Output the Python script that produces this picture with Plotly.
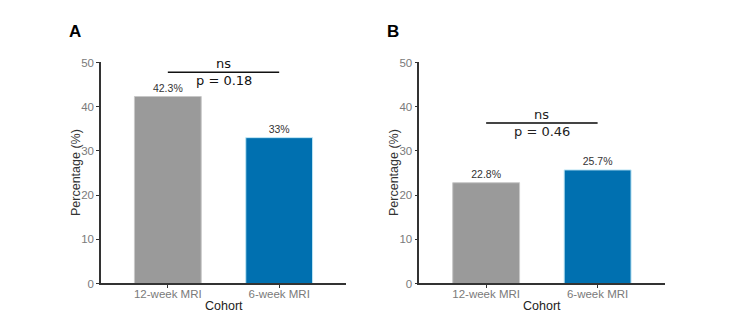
import plotly.graph_objects as go

categories = ["12-week MRI", "6-week MRI"]
values_a = [42.3, 33.0]
values_b = [22.8, 25.7]
labels_a = ["42.3%", "33%"]
labels_b = ["22.8%", "25.7%"]
bar_colors = ["#9a9a9a", "#0070b0"]
p_a = "p = 0.18"
p_b = "p = 0.46"
sig_a = "ns"
sig_b = "ns"
bracket_a = 47.8
bracket_b = 36.3
x_title = "Cohort"
y_title = "Percentage (%)"

FONT = "Liberation Sans, Arial, sans-serif"

fig = go.Figure()
fig.add_trace(go.Bar(x=categories, y=values_a, text=labels_a, textposition="outside",
                     marker=dict(color=bar_colors, line=dict(color=["#c8c8c8", "#bfe6f5"], width=1)),
                     width=0.6, xaxis="x", yaxis="y", cliponaxis=False,
                     textfont=dict(family=FONT, size=10.5, color="#333333"),
                     showlegend=False))
fig.add_trace(go.Bar(x=categories, y=values_b, text=labels_b, textposition="outside",
                     marker=dict(color=bar_colors, line=dict(color=["#c8c8c8", "#bfe6f5"], width=1)),
                     width=0.6, xaxis="x2", yaxis="y2", cliponaxis=False,
                     textfont=dict(family=FONT, size=10.5, color="#333333"),
                     showlegend=False))

ydom = [0.1277, 0.8077]
xcommon = dict(range=[-0.6, 1.6], showline=True, linecolor="#333333", linewidth=1.5,
               ticks="outside", ticklen=3, tickcolor="#333333", showgrid=False,
               tickfont=dict(family=FONT, size=11.5, color="#7a7a7a"),
               ticklabelstandoff=-4,
               fixedrange=True, automargin=False)
ycommon = dict(range=[0, 50], dtick=10, showline=True, linecolor="#333333", linewidth=1.5,
               ticks="outside", ticklen=3, tickcolor="#333333", showgrid=False, zeroline=False,
               tickfont=dict(family=FONT, size=11.5, color="#7a7a7a"),
               domain=ydom, automargin=False)

xdom_a = [0.1347, 0.4613]
xdom_b = [0.559, 0.886]
fig.update_layout(
    width=750, height=325, margin=dict(l=0, r=0, t=0, b=0),
    paper_bgcolor="white", plot_bgcolor="white",
    xaxis=dict(domain=xdom_a, anchor="y", **xcommon),
    yaxis=dict(anchor="x", **ycommon),
    xaxis2=dict(domain=xdom_b, anchor="y2", **xcommon),
    yaxis2=dict(anchor="x2", **ycommon),
    bargap=0.4,
)

shapes = [
    dict(type="line", xref="x", yref="y", x0=0, x1=1, y0=bracket_a, y1=bracket_a,
         line=dict(color="#111111", width=1.5)),
    dict(type="line", xref="x2", yref="y2", x0=0, x1=1, y0=bracket_b, y1=bracket_b,
         line=dict(color="#444444", width=2)),
]
fig.update_layout(shapes=shapes)

SIGF = "DejaVu Sans, sans-serif"
ymid = (ydom[0] + ydom[1]) / 2
ann = [
    dict(x=0.5, y=bracket_a, xref="x", yref="y", text=sig_a, showarrow=False, yanchor="bottom",
         yshift=-1, font=dict(family=SIGF, size=13, color="#111111")),
    dict(x=0.5, y=bracket_a, xref="x", yref="y", text=p_a, showarrow=False, yanchor="top",
         yshift=1, font=dict(family=SIGF, size=13, color="#111111")),
    dict(x=0.5, y=bracket_b, xref="x2", yref="y2", text=sig_b, showarrow=False, yanchor="bottom",
         yshift=-1, font=dict(family=SIGF, size=13, color="#222222")),
    dict(x=0.5, y=bracket_b, xref="x2", yref="y2", text=p_b, showarrow=False, yanchor="top",
         yshift=1, font=dict(family=SIGF, size=13, color="#222222")),
    dict(x=75 / 750, y=1 - 31.5 / 325, xref="paper", yref="paper", text="<b>A</b>", showarrow=False,
         xanchor="center", yanchor="middle", font=dict(family=FONT, size=17, color="#000000")),
    dict(x=393 / 750, y=1 - 31.5 / 325, xref="paper", yref="paper", text="<b>B</b>", showarrow=False,
         xanchor="center", yanchor="middle", font=dict(family=FONT, size=17, color="#000000")),
]
for xd, ycx in [(xdom_a, 76), (xdom_b, 394)]:
    ann.append(dict(x=(xd[0] + xd[1]) / 2, y=1 - 306 / 325, xref="paper", yref="paper", text=x_title,
                    showarrow=False, xanchor="center", yanchor="middle",
                    font=dict(family=FONT, size=12.5, color="#222222")))
    ann.append(dict(x=ycx / 750, y=ymid, xref="paper", yref="paper", text=y_title, textangle=-90,
                    showarrow=False, xanchor="center", yanchor="middle",
                    font=dict(family=FONT, size=12.5, color="#333333")))
fig.update_layout(annotations=ann)

fig.write_html("out.html")
